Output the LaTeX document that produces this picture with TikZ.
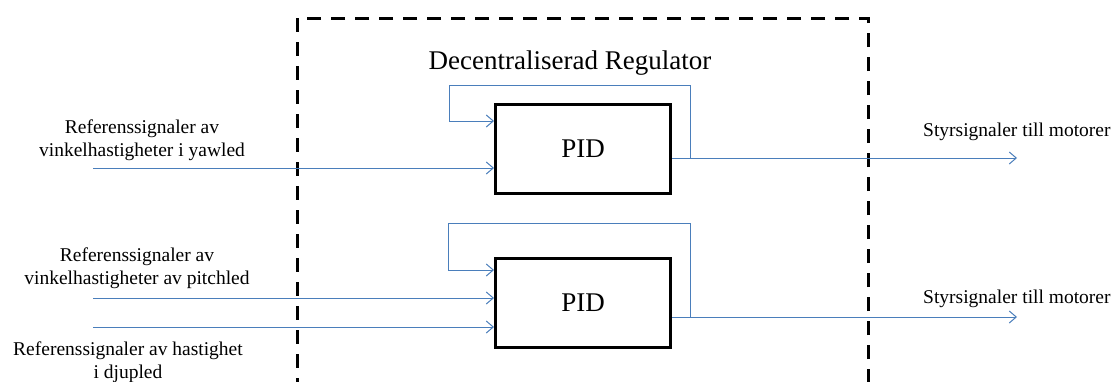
\documentclass[tikz,border=0pt]{standalone}
\usepackage{fontspec}
\setmainfont{Liberation Serif}
\usetikzlibrary{arrows.meta}
\definecolor{sigblue}{RGB}{74,126,187}

\begin{document}
\begin{tikzpicture}[x=1pt,y=-1pt,
  pidbox/.style={draw,line width=3pt,minimum width=175pt,minimum height=89pt,font=\fontsize{27}{30}\selectfont},
  signal/.style={draw=sigblue,line width=1pt,-{Straight Barb[length=7pt,width=12pt]}},
  lbl/.style={align=center,inner sep=0pt,font=\fontsize{19.5}{23}\selectfont}]
\useasboundingbox (0,0) rectangle (1113,381);
% regulator frame
\draw[line width=3pt,dash pattern=on 14pt off 10pt] (297,18) rectangle (868,383);
\node[font=\fontsize{27}{30}\selectfont] (title) at (570,63) {Decentraliserad Regulator};
\node[pidbox] (pidyaw) at (583,149) {PID};
\node[pidbox] (pidpitch) at (583,303) {PID};
% signal end points
\coordinate (inyaw) at (93,168);
\coordinate (inpitch) at (93,298);
\coordinate (indepth) at (93,327);
\coordinate (outyaw) at (pidyaw.east |- 0,158);
\coordinate (outpitch) at (pidpitch.east |- 0,317);
\coordinate (endyaw) at (1017,158);
\coordinate (endpitch) at (1017,317);
% inputs
\draw[signal] (inyaw) -- (inyaw -| pidyaw.west);
\draw[signal] (inpitch) -- (inpitch -| pidpitch.west);
\draw[signal] (indepth) -- (indepth -| pidpitch.west);
% feedback loops
\draw[signal] (outyaw) -| ++(18,-73) -| ++(-241,36) -- ([yshift=28pt]pidyaw.west);
\draw[signal] (outpitch) -| ++(18,-94) -| ++(-242,47) -- ([yshift=33pt]pidpitch.west);
% outputs
\draw[signal] (outyaw) -- (endyaw);
\draw[signal] (outpitch) -- (endpitch);
% labels
\node[lbl] (refyaw) at (142,140) {Referenssignaler av\\vinkelhastigheter i yawled};
\node[lbl] (refpitch) at (137,268) {Referenssignaler av\\vinkelhastigheter av pitchled};
\node[lbl] (refdepth) at (128,362) {Referenssignaler av hastighet\\i djupled};
\node[lbl,anchor=west] (lblyaw) at (923,132) {Styrsignaler till motorer};
\node[lbl,anchor=west] (lblpitch) at (923,299) {Styrsignaler till motorer};
\end{tikzpicture}
\end{document}
